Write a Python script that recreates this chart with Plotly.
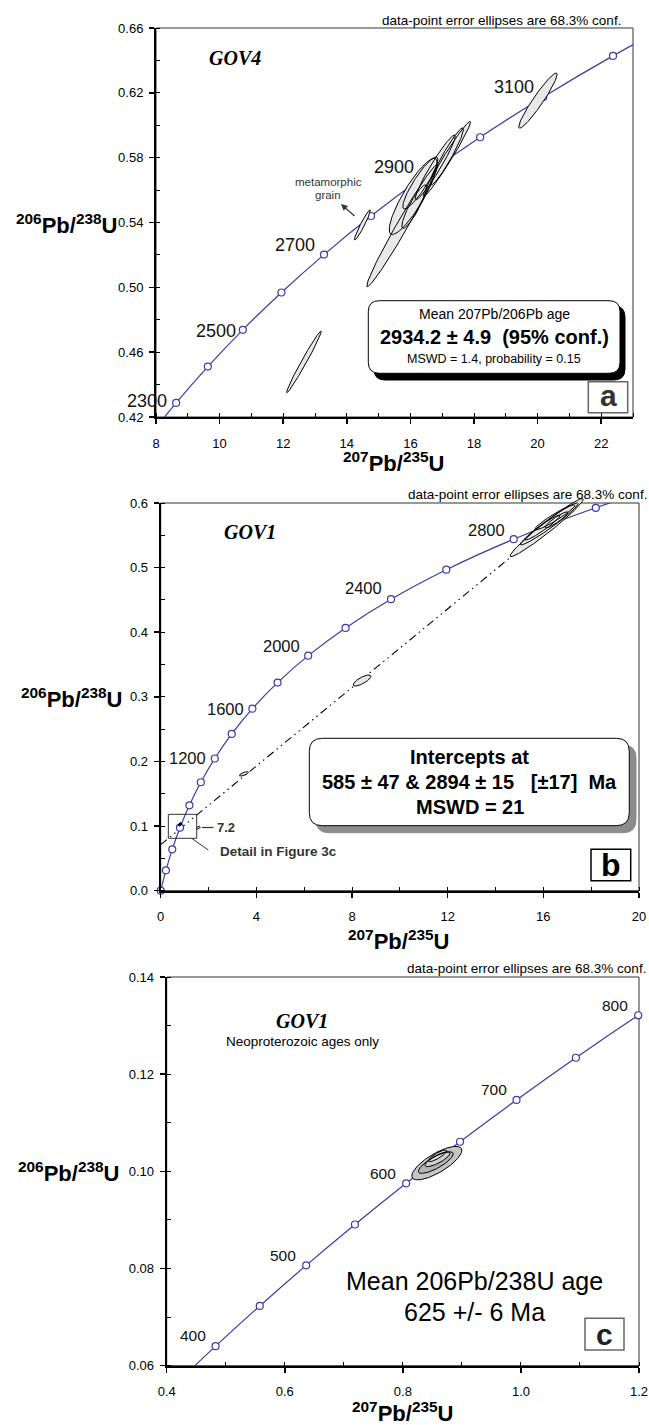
import numpy as np
import plotly.graph_objects as go

W, H = 649, 1425
SANS = "Liberation Sans"
SERIF = "Liberation Serif"

# ---------------- DATA ----------------
# Panel a (GOV4): concordia age markers (Ma) and ratios
a_age = [2200, 2300, 2400, 2500, 2600, 2700, 2800, 2900, 3000, 3100, 3200, 3300]
a_x = [7.730, 8.633, 9.630, 10.730, 11.944, 13.283, 14.762, 16.393, 18.193, 20.180, 22.371, 24.790]
a_y = [0.4067, 0.4287, 0.4511, 0.4738, 0.4968, 0.5202, 0.5440, 0.5681, 0.5926, 0.6175, 0.6428, 0.6685]
a_labels = [2300, 2500, 2700, 2900, 3100]

# Panel a error ellipses: centre, 1-sigma half-widths, correlation
a_ell_x = [15.74, 16.09, 16.31, 16.12, 16.78, 17.15, 17.15, 12.65, 14.49, 20.01]
a_ell_y = [0.538, 0.5561, 0.5644, 0.5498, 0.574, 0.5793, 0.5808, 0.454, 0.5385, 0.6152]
a_ell_sx = [1.11, 0.756, 0.55, 0.39, 0.63, 0.74, 0.52, 0.545, 0.25, 0.604]
a_ell_sy = [0.0376, 0.0235, 0.016, 0.0134, 0.020, 0.0231, 0.0176, 0.019, 0.0093, 0.017]
a_ell_rho = [0.984, 0.87, 0.90, 0.89, 0.96, 0.98, 0.95, 0.986, 0.958, 0.95]

# Panel b (GOV1): concordia markers
b_age = [0, 200, 400, 600, 800, 1000, 1200, 1400, 1600, 1800, 2000, 2200, 2400, 2600, 2800, 3000, 3200]
b_x = [0.0, 0.2177, 0.4828, 0.8056, 1.1987, 1.6774, 2.2603, 2.9701, 3.8344, 4.8869, 6.1685,
       7.730, 9.630, 11.944, 14.762, 18.193, 22.371]
b_y = [0.0, 0.03151, 0.06402, 0.09754, 0.13213, 0.16780, 0.20460, 0.24256, 0.28172, 0.32211,
       0.36377, 0.4067, 0.4511, 0.4968, 0.5440, 0.5926, 0.6428]
b_labels = [1200, 1600, 2000, 2400, 2800]

# Panel b discordia: lower and upper intercepts (585 Ma, 2894 Ma)
b_int_x = [0.7792, 16.29]
b_int_y = [0.09499, 0.5666]

# Panel b error ellipses
b_ell_x = [16.14, 16.25, 15.97, 16.48, 16.55, 8.42, 3.48, 1.572, 0.807]
b_ell_y = [0.562, 0.5677, 0.562, 0.5778, 0.5739, 0.3253, 0.1808, 0.0975, 0.1027]
b_ell_sx = [1.53, 1.21, 0.73, 0.84, 0.48, 0.37, 0.19, 0.08, 0.07]
b_ell_sy = [0.045, 0.0325, 0.0193, 0.0194, 0.0124, 0.0085, 0.0033, 0.0022, 0.0028]
b_ell_rho = [0.975, 0.97, 0.96, 0.95, 0.92, 0.76, 0.70, 0.5, 0.5]

# Panel c (GOV1, Neoproterozoic only): concordia markers
c_age = [350, 400, 450, 500, 550, 600, 650, 700, 750, 800, 850]
c_x = [0.41156, 0.4828, 0.55766, 0.63628, 0.71887, 0.8056, 0.89677, 0.99251, 1.09308, 1.1987, 1.30971]
c_y = [0.05580, 0.06402, 0.07230, 0.08065, 0.08906, 0.09754, 0.10609, 0.11470, 0.12338, 0.13213, 0.14094]
c_labels = [400, 500, 600, 700, 800]

# Panel c error ellipses
c_ell_x = [0.8575, 0.8558, 0.8587, 0.8587]
c_ell_y = [0.1017, 0.1018, 0.1025, 0.1032]
c_ell_sx = [0.0424, 0.0296, 0.0212, 0.0156]
c_ell_sy = [0.00345, 0.00222, 0.00154, 0.0012]
c_ell_rho = [0.76, 0.80, 0.80, 0.85]

# ---------------- STYLE / LAYOUT CONSTANTS ----------------
CURVE = "#3b3ba6"
a_fill = ["#e8e8e8"] * 10
b_fill = ["#e8e8e8"] * 7 + ["white", "black"]
c_fill = ["#c4c4c4", "#b4b4b4", "#cfcfcf", "#e2e2e2"]

a_lab_shift = {2300: (-7, 2), 2500: (-5, -1), 2700: (-7, 10), 2900: (-7, 10), 3100: (-7, 10)}
b_lab_shift = {1200: (-7, 0), 1600: (-6, 0), 2000: (-6, 10), 2400: (-7, 11), 2800: (-7, 9)}
c_lab_shift = {400: (-8, 11), 500: (-8, 10), 600: (-8, 10), 700: (-8, 10), 800: (-8, 10)}

# plot areas in pixels (left, top, right, bottom)
PA = (156, 28, 633, 417)
PB = (160.7, 503, 639, 890.7)
PC = (166.7, 977, 639, 1365.7)
PB_OVER_TOP = 478  # ellipses of panel b may spill above the frame


def P(xp, yp):
    return xp / W, 1 - yp / H


def ellipse_xy(cx, cy, sx, sy, rho, n=140):
    t = np.linspace(0, 2 * np.pi, n)
    x = cx + sx * np.cos(t)
    y = cy + sy * (rho * np.cos(t) + np.sqrt(1 - rho ** 2) * np.sin(t))
    return x, y


fig = go.Figure()
shapes = []
annos = []


def add_curve(xa, ya, ages, xs, ys, labels, shifts, rng_x, rng_y, lab_size):
    fig.add_trace(go.Scatter(x=xs, y=ys, xaxis=xa, yaxis=ya, mode="lines",
                             line=dict(color=CURVE, width=1.2, shape="spline", smoothing=1.0),
                             hoverinfo="skip"))
    inside = [(x, y) for x, y in zip(xs, ys) if rng_x[0] <= x <= rng_x[1] and rng_y[0] <= y <= rng_y[1]]
    fig.add_trace(go.Scatter(x=[p[0] for p in inside], y=[p[1] for p in inside], xaxis=xa, yaxis=ya,
                             mode="markers", cliponaxis=False,
                             marker=dict(symbol="circle", size=7, color="white",
                                         line=dict(color=CURVE, width=1.2)),
                             hoverinfo="skip"))
    for age in labels:
        i = ages.index(age)
        dx, dy = shifts[age]
        annos.append(dict(x=xs[i], y=ys[i], xref=xa, yref=ya, text=str(age), showarrow=False,
                          xanchor="right", yanchor="middle", xshift=dx, yshift=dy,
                          font=dict(family=SANS, size=lab_size, color="#111")))


def add_ellipses(xa, ya, ex, ey, esx, esy, erho, fills):
    for i in range(len(ex)):
        x, y = ellipse_xy(ex[i], ey[i], esx[i], esy[i], erho[i])
        fig.add_trace(go.Scatter(x=x, y=y, xaxis=xa, yaxis=ya, mode="lines", fill="toself",
                                 fillcolor=fills[i], line=dict(width=0, color=fills[i]),
                                 hoverinfo="skip"))
    for i in range(len(ex)):
        x, y = ellipse_xy(ex[i], ey[i], esx[i], esy[i], erho[i])
        fig.add_trace(go.Scatter(x=x, y=y, xaxis=xa, yaxis=ya, mode="lines",
                                 line=dict(width=1, color="black"), hoverinfo="skip"))


# panel a
add_curve("x", "y", a_age, a_x, a_y, a_labels, a_lab_shift, (8, 23), (0.42, 0.66), 18)
add_ellipses("x", "y", a_ell_x, a_ell_y, a_ell_sx, a_ell_sy, a_ell_rho, a_fill)

# panel b: discordia (extended to x = 0), concordia, ellipses on overlay axes
slope = (b_int_y[1] - b_int_y[0]) / (b_int_x[1] - b_int_x[0])
dx_line = [0.0, b_int_x[1]]
dy_line = [b_int_y[0] - slope * b_int_x[0], b_int_y[1]]
fig.add_trace(go.Scatter(x=dx_line, y=dy_line, xaxis="x2", yaxis="y2", mode="lines",
                         line=dict(color="black", width=1.1, dash="8px,4px,1.5px,4px,1.5px,4px"),
                         hoverinfo="skip"))
add_curve("x2", "y2", b_age, b_x, b_y, b_labels, b_lab_shift, (0, 20), (0, 0.6), 16.5)
add_ellipses("x4", "y4", b_ell_x, b_ell_y, b_ell_sx, b_ell_sy, b_ell_rho, b_fill)

# panel c
add_curve("x3", "y3", c_age, c_x, c_y, c_labels, c_lab_shift, (0.4, 1.2), (0.06, 0.14), 15.5)
add_ellipses("x3", "y3", c_ell_x, c_ell_y, c_ell_sx, c_ell_sy, c_ell_rho, c_fill)


def axis(dom, anchor, rng, dtick, tick0, minor_dtick, fmt, standoff):
    return dict(domain=dom, anchor=anchor, range=rng, dtick=dtick, tick0=tick0, tickformat=fmt,
                automargin=False, showgrid=False, zeroline=False, showline=True, linewidth=2,
                linecolor="black", ticks="outside", ticklen=5, tickwidth=1.5, tickcolor="black",
                ticklabelstandoff=standoff, ticklabeloverflow="allow",
                tickfont=dict(family=SANS, size=13, color="black"),
                minor=dict(dtick=minor_dtick, ticks="inside", ticklen=4, tickwidth=1,
                           tickcolor="black", showgrid=False))


def dom_x(p):
    return [p[0] / W, p[2] / W]


def dom_y(p):
    return [1 - p[3] / H, 1 - p[1] / H]


over_top = 0.6 * (PB[3] - PB_OVER_TOP) / (PB[3] - PB[1])
layout = dict(
    width=W, height=H, margin=dict(l=0, r=0, t=0, b=0), showlegend=False,
    paper_bgcolor="white", plot_bgcolor="rgba(0,0,0,0)",
    xaxis=axis(dom_x(PA), "y", [8, 23], 2, 8, 1, "d", 8),
    yaxis=axis(dom_y(PA), "x", [0.42, 0.66], 0.04, 0.42, 0.02, ".2f", 3),
    xaxis2=axis(dom_x(PB), "y2", [0, 20], 4, 0, 2, "d", 8),
    yaxis2=axis(dom_y(PB), "x2", [0, 0.6], 0.1, 0, 0.05, ".1f", 3),
    xaxis3=axis(dom_x(PC), "y3", [0.4, 1.2], 0.2, 0.4, 0.1, ".1f", 8),
    yaxis3=axis(dom_y(PC), "x3", [0.06, 0.14], 0.02, 0.06, 0.01, ".2f", 3),
    xaxis4=dict(domain=dom_x(PB), anchor="y4", range=[0, 20], visible=False, automargin=False),
    yaxis4=dict(domain=[1 - PB[3] / H, 1 - PB_OVER_TOP / H], anchor="x4", range=[0, over_top],
                visible=False, automargin=False),
)

# plot frames (thin top/right)
for k in ("", "2", "3"):
    shapes.append(dict(type="rect", xref=f"x{k} domain", yref=f"y{k} domain", x0=0, x1=1, y0=0, y1=1,
                       line=dict(color="#333", width=1), layer="below"))


def rrect_path(x0, y0, x1, y1, r):
    def p(x, y):
        a, b = P(x, y)
        return f"{a:.5f},{b:.5f}"
    return (f"M {p(x0 + r, y0)} L {p(x1 - r, y0)} Q {p(x1, y0)} {p(x1, y0 + r)} "
            f"L {p(x1, y1 - r)} Q {p(x1, y1)} {p(x1 - r, y1)} L {p(x0 + r, y1)} "
            f"Q {p(x0, y1)} {p(x0, y1 - r)} L {p(x0, y0 + r)} Q {p(x0, y0)} {p(x0 + r, y0)} Z")


def box_rect(x0, y0, x1, y1, color):
    a0, b0 = P(x0, y1)
    a1, b1 = P(x1, y0)
    shapes.append(dict(type="rect", xref="paper", yref="paper", x0=a0, x1=a1, y0=b0, y1=b1,
                       line=dict(color=color, width=1.5), fillcolor="white", layer="above"))


def line_px(x0, y0, x1, y1, color="#333", width=1):
    a0, b0 = P(x0, y0)
    a1, b1 = P(x1, y1)
    shapes.append(dict(type="line", xref="paper", yref="paper", x0=a0, y0=b0, x1=a1, y1=b1,
                       line=dict(color=color, width=width), layer="above"))


def text_px(x, y, text, size, xanchor="center", color="black", family=SANS):
    a, b = P(x, y)
    annos.append(dict(x=a, y=b, xref="paper", yref="paper", text=text, showarrow=False,
                      xanchor=xanchor, yanchor="middle",
                      font=dict(family=family, size=size, color=color)))


NB = "\u00a0"
# ---- panel a decorations
shapes.append(dict(type="path", xref="paper", yref="paper", path=rrect_path(374, 306, 625, 380, 11),
                   fillcolor="black", line=dict(color="black", width=1), layer="above"))
shapes.append(dict(type="path", xref="paper", yref="paper", path=rrect_path(368.3, 300.7, 620, 373.3, 11),
                   fillcolor="white", line=dict(color="black", width=1), layer="above"))
text_px(494, 314.3, "Mean 207Pb/206Pb age", 14)
text_px(494, 337.3, f"<b>2934.2 ± 4.9{NB}{NB}(95% conf.)</b>", 20)
text_px(494, 359.3, "MSWD = 1.4, probability = 0.15", 12.5)
box_rect(588.3, 381.7, 627.7, 412.7, "#666")
text_px(608, 396, "<b>a</b>", 30, color="#333")
text_px(623, 20, "data-point error ellipses are 68.3% conf.", 13.5, xanchor="right")
text_px(207, 58, "<b><i>GOV4</i></b>", 20, xanchor="left", family=SERIF)
text_px(328.3, 182, "metamorphic", 11.5, color="#333")
text_px(328.3, 194.5, "grain", 11.5, color="#333")
ha, hb = P(341, 204)
annos.append(dict(x=ha, y=hb, xref="paper", yref="paper", ax=15, ay=13.3, text="", showarrow=True,
                  arrowhead=2, arrowsize=1, arrowwidth=1.3, arrowcolor="#333"))

# ---- panel b decorations
shapes.append(dict(type="path", xref="paper", yref="paper", path=rrect_path(316, 745, 636, 832.7, 13),
                   fillcolor="#8c8c8c", line=dict(color="#8c8c8c", width=1), layer="above"))
shapes.append(dict(type="path", xref="paper", yref="paper", path=rrect_path(309.3, 738.3, 629.3, 825.7, 13),
                   fillcolor="white", line=dict(color="black", width=1), layer="above"))
text_px(470, 756.7, "<b>Intercepts at</b>", 20)
text_px(470, 781.7, f"<b>585 ± 47 & 2894 ± 15 {NB}{NB}[±17] {NB}Ma</b>", 20)
text_px(470, 806.7, "<b>MSWD = 21</b>", 20)
box_rect(591, 849.3, 630.7, 880.7, "black")
text_px(611, 865, "<b>b</b>", 32)
text_px(649, 494, "data-point error ellipses are 68.3% conf.", 13.5, xanchor="right")
text_px(222, 531.7, "<b><i>GOV1</i></b>", 20, xanchor="left", family=SERIF)
shapes.append(dict(type="rect", xref="x2", yref="y2", x0=0.32, x1=1.505, y0=0.0811, y1=0.1182,
                   line=dict(color="#333", width=1), layer="above"))
line_px(191.7, 838.3, 208.3, 850)
text_px(218, 851, "<b>Detail in Figure 3c</b>", 13.5, xanchor="left", color="#333")
line_px(202, 827.5, 213.5, 827.5, width=1.2)
text_px(215, 827, "<b>7.2</b>", 13, xanchor="left", color="#333")

# ---- panel c decorations
text_px(474.7, 1281, "Mean 206Pb/238U age", 25)
text_px(474.7, 1312.3, "625 +/- 6 Ma", 25)
box_rect(585, 1318.3, 624, 1350, "#666")
text_px(604.5, 1334, "<b>c</b>", 30, color="#222")
text_px(647.7, 968.3, "data-point error ellipses are 68.3% conf.", 13.5, xanchor="right")
text_px(301.7, 1021, "<b><i>GOV1</i></b>", 20, family=SERIF)
text_px(302, 1041, "Neoproterozoic ages only", 13.5)

# ---- axis titles
XT = "<b><sup>207</sup>Pb/<sup>235</sup>U</b>"
YT = "<b><sup>206</sup>Pb/<sup>238</sup>U</b>"
text_px(394, 462, XT, 22)
text_px(399, 940, XT, 22)
text_px(402.5, 1412, XT, 22)
text_px(120, 224, YT, 22, xanchor="right")
text_px(125, 698, YT, 22, xanchor="right")
text_px(122, 1172, YT, 22, xanchor="right")

layout["shapes"] = shapes
layout["annotations"] = annos
fig.update_layout(**layout)
fig.write_html("out.html", config={"displayModeBar": False, "staticPlot": True},
               post_script="document.body.style.margin='0px';document.body.style.overflow='hidden';")
